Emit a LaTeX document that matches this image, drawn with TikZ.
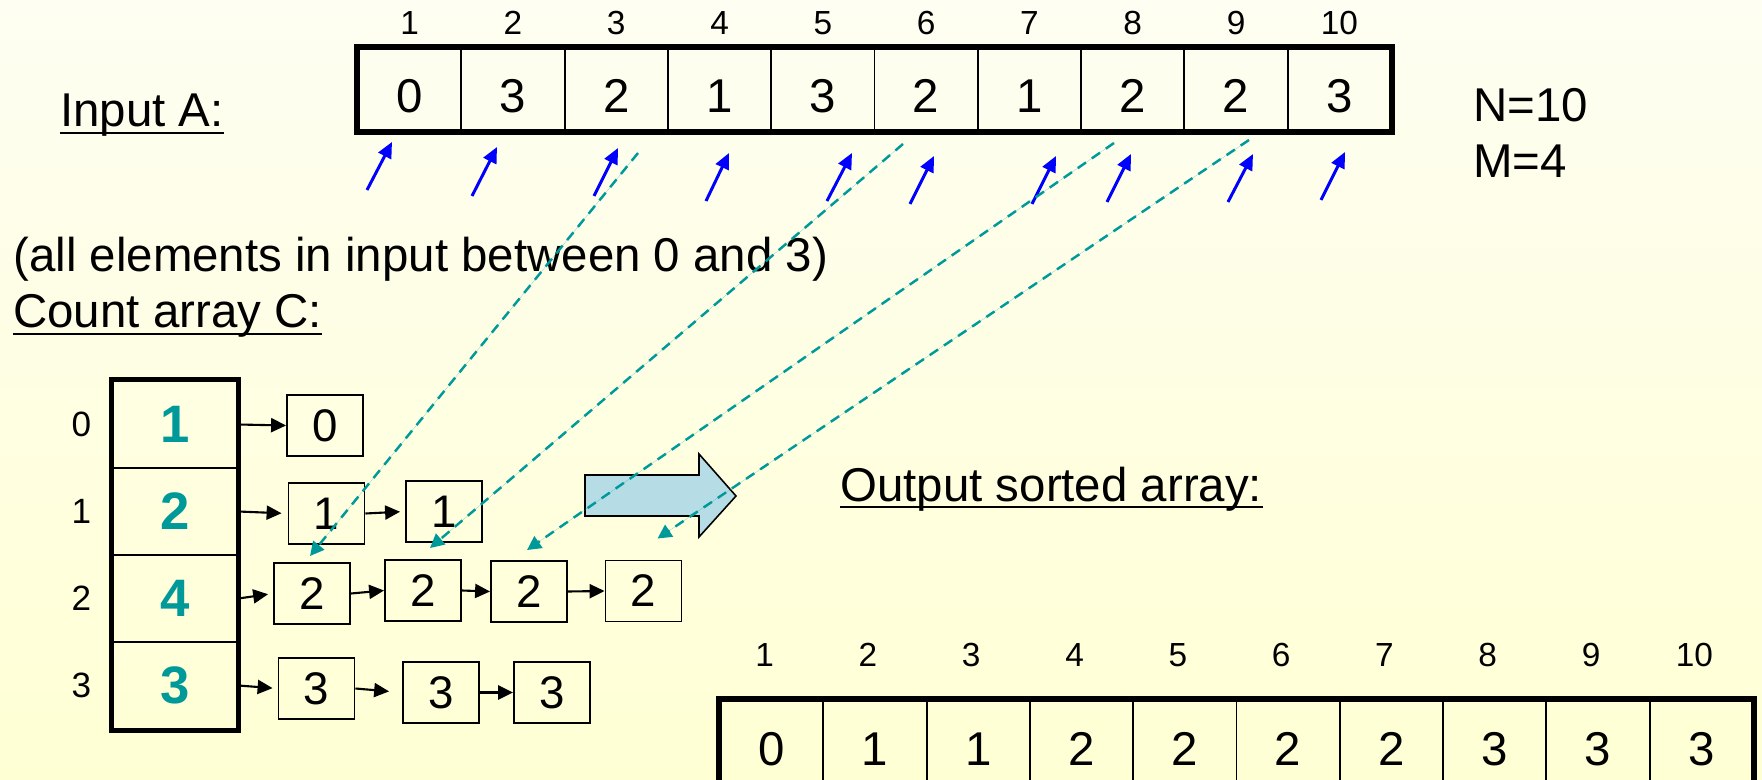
\documentclass[tikz,border=0pt]{standalone}
\usepackage{fontspec}
\setmainfont{Liberation Sans}
\usepackage{tikz}
\usetikzlibrary{arrows.meta,positioning,calc}
\usepackage{xcolor}
\definecolor{SortTeal}{HTML}{009999}
\definecolor{SortBlue}{HTML}{0000FF}
\definecolor{SortBgTop}{HTML}{FEFEF2}
\definecolor{SortBgBottom}{HTML}{FFFFD4}
\definecolor{SortArrowFill}{HTML}{B6DDE6}
\tikzset{
    % Cell of the input and output arrays
    cellnode/.style={
        draw=black,
        line width=1.1pt,
        minimum width=2.066cm,
        minimum height=1.66cm,
        inner sep=0pt,
        text height=26.2pt,
        text depth=0pt,
        font=\fontsize{27}{32}\selectfont
    },
    % Output array cell
    outcell/.style={
        cellnode,
        minimum height=1.7cm
    },
    % Count array cell
    countcell/.style={
        draw=black,
        line width=1.6pt,
        minimum width=2.48cm,
        minimum height=1.74cm,
        inner sep=0pt,
        text=SortTeal,
        font=\fontsize{30}{34}\selectfont\bfseries
    },
    % Box of a chain
    chainbox/.style={
        draw=black,
        line width=1.1pt,
        minimum width=1.52cm,
        minimum height=1.22cm,
        inner sep=0pt,
        font=\fontsize{26}{30}\selectfont
    },
    % Thick frame round an array
    arrframe/.style={
        line width=3.2pt,
        draw=black
    },
    % Index above or beside an array
    idxlabel/.style={
        inner sep=0pt,
        font=\fontsize{19}{21}\selectfont
    },
    % Plain text
    txtnode/.style={
        inner sep=0pt,
        anchor=base west,
        font=\fontsize{27}{32}\selectfont
    },
    % Underline
    uline/.style={
        line width=1.6pt,
        draw=black
    },
    % Arrow between chain boxes
    linkarrow/.style={
        -{Triangle[length=8.5pt,width=8pt]},
        line width=1.2pt,
        draw=black
    },
    % Blue pointer arrow
    ptrarrow/.style={
        -{Triangle[length=9pt,width=8pt]},
        line width=1.7pt,
        draw=SortBlue,
        fill=SortBlue
    },
    % Teal dashed arrow
    dasharrow/.style={
        -{Triangle[length=8pt,width=8pt]},
        line width=1.4pt,
        dash pattern=on 5.7pt off 4pt,
        draw=SortTeal,
        fill=SortTeal
    }
}
\begin{document}
\begin{tikzpicture}[x=0.02cm,y=-0.02cm]
    \clip (0,0) rectangle (1762,780);
    \shade[top color=SortBgTop,bottom color=SortBgBottom] (0,0) rectangle (1762,780);

    % input array
    \node[txtnode] (inA) at (60,127) {Input A:};
    \draw[uline] ([yshift=-3.4pt]inA.base west) -- ([yshift=-3.4pt]inA.base east);
    \foreach \v [count=\i] in {0,3,2,1,3,2,1,2,2,3}
        \node[cellnode] (a\i) at ({358+(\i-0.5)*103.3},89.5) {\v};
    \foreach \i in {1,...,10}
        \node[idxlabel,above=0.24cm of a\i] (ai\i) {\i};
    \draw[arrframe] (a1.north west) rectangle (a10.south east);
    \node[txtnode] (nn) at (1473,122) {N=10};
    \node[txtnode] (mm) at (1473,178) {M=4};

    % blue pointers
    \foreach \tx/\ty/\hx/\hy [count=\i] in {367/190/392/142,472/196/497/147,594/196/618/148,706/201/729/153,827/201/852/153,910/204/934/156,1032/204/1056/156,1107/202/1131/154,1228/202/1253/154,1321/200/1345/152}{
        \coordinate (pt\i) at (\tx,\ty);
        \coordinate (ph\i) at (\hx,\hy);
        \draw[ptrarrow] (pt\i) -- (ph\i);
    }

    % count array
    \node[txtnode] (note) at (13,272) {(all elements in input between 0 and 3)};
    \node[txtnode] (cntC) at (13,328) {Count array C:};
    \draw[uline] ([yshift=-3.4pt]cntC.base west) -- ([yshift=-3.4pt]cntC.base east);
    \foreach \v [count=\i from 0] in {1,2,4,3}{
        \node[countcell] (c\i) at (175,{424.5+\i*87}) {\v};
        \node[idxlabel,font=\fontsize{20}{22}\selectfont,left=0.4cm of c\i] (ci\i) {\i};
    }
    \draw[arrframe] (c0.north west) rectangle (c3.south east);

    % chains
    \node[chainbox] (r0b1) at (325,425.5) {0};
    \node[chainbox] (r1b1) at (326.5,513.5) {1};
    \node[chainbox] (r1b2) at (444,511.5) {1};
    \node[chainbox] (r2b1) at (312,593.5) {2};
    \node[chainbox] (r2b2) at (423,590.5) {2};
    \node[chainbox] (r2b3) at (529,591.5) {2};
    \node[chainbox] (r2b4) at (643.5,591) {2};
    \node[chainbox] (r3b1) at (316.5,688.5) {3};
    \node[chainbox] (r3b2) at (441,692.5) {3};
    \node[chainbox] (r3b3) at (552,692.5) {3};
    \draw[linkarrow] (c0.east) -- (r0b1.west);
    \draw[linkarrow,shorten >=0.12cm] (c1.east) -- (r1b1.west);
    \draw[linkarrow,shorten >=0.1cm] (r1b1.east) -- (r1b2.west);
    \draw[linkarrow,shorten >=0.1cm] (c2.east) -- (r2b1.west);
    \draw[linkarrow] (r2b1.east) -- (r2b2.west);
    \draw[linkarrow] (r2b2.east) -- (r2b3.west);
    \draw[linkarrow] (r2b3.east) -- (r2b4.west);
    \draw[linkarrow,shorten >=0.1cm] (c3.east) -- (r3b1.west);
    \draw[linkarrow,shorten >=0.26cm] (r3b1.east) -- (r3b2.west);
    \draw[linkarrow] (r3b2.east) -- (r3b3.west);

    % block arrow
    \filldraw[fill=SortArrowFill,draw=black,line width=0.9pt]
        (585,475) -- (699,475) -- (699,454) -- (736,496) -- (699,537) -- (699,516) -- (585,516) -- cycle;

    % output array
    \node[txtnode] (outT) at (840,501) {Output sorted array:};
    \draw[uline] ([yshift=-3.4pt]outT.base west) -- ([yshift=-3.4pt]outT.base east);
    \foreach \v [count=\i] in {0,1,1,2,2,2,2,3,3,3}
        \node[outcell] (o\i) at ({720+(\i-0.5)*103.3},742.5) {\v};
    \foreach \i in {1,...,10}
        \node[idxlabel,above=0.64cm of o\i,xshift=-0.14cm] (oi\i) {\i};
    \draw[arrframe] (o1.north west) rectangle (o10.south east);

    % dashed moves of the 2s
    \coordinate (s3) at (638,153);
    \coordinate (s6) at (903,144);
    \coordinate (s8) at (1114,143);
    \coordinate (s9) at (1249,140);
    \draw[dasharrow] (s3) -- ($(r2b1.north)+(-2,-6)$);
    \draw[dasharrow] (s6) -- ($(r2b2.north)+(7,-11)$);
    \draw[dasharrow] (s8) -- ($(r2b3.north)+(-2,-10)$);
    \draw[dasharrow] (s9) -- ($(r2b4.north)+(14,-21)$);
\end{tikzpicture}
\end{document}
